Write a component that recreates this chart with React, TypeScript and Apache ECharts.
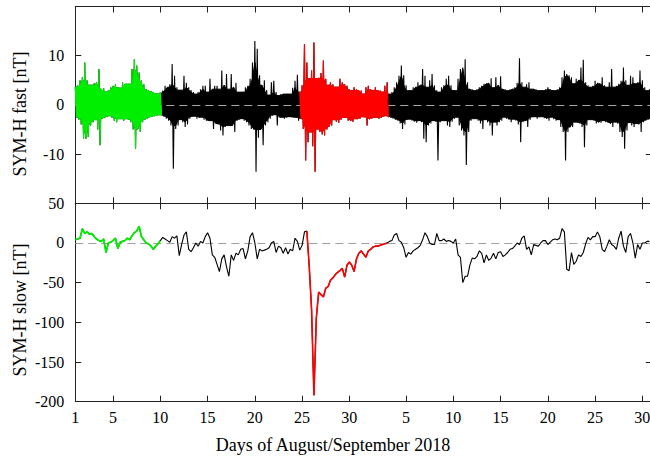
import React, { useEffect, useRef } from "react";
import * as echarts from "echarts";

// Time base: day of August (Sep d = 31 + d), samples every quarter day
const START_DAY = 1;
const STEP = 0.25;
const X_MIN = 1;
const X_MAX = 62;

const xTickDays = [1, 5, 10, 15, 20, 25, 30, 36, 41, 46, 51, 56, 61];

// Fast component: upper / lower extreme per quarter day [nT]
const fastHigh = [
  3.6, 4.0, 5.0, 5.6, 8.6, 5.0, 4.0, 4.0, 4.4, 4.6, 7.3, 3.2, 3.4, 2.6, 3.0, 3.6,
  3.9, 4.2, 3.6, 3.4, 4.6, 4.2, 4.2, 4.2, 7.3, 9.3, 8.0, 6.6, 5.0, 4.2, 3.2, 3.0,
  2.8, 2.6, 2.4, 2.2, 2.6, 2.9, 3.9, 3.6, 4.2, 8.3, 5.9, 3.6, 3.0, 3.0, 5.9, 4.5,
  3.6, 3.0, 2.6, 2.2, 2.6, 3.2, 3.9, 3.9, 2.6, 5.3, 3.2, 3.9, 3.9, 3.2, 7.0, 4.0,
  6.3, 3.2, 6.3, 3.6, 4.5, 2.6, 2.6, 2.6, 3.6, 3.9, 5.3, 8.6, 13.0, 11.4, 6.0, 4.0,
  5.0, 3.0, 2.0, 4.6, 4.9, 2.6, 1.9, 2.2, 2.2, 2.2, 2.2, 2.2, 3.5, 4.9, 6.1, 2.6,
  4.0, 12.4, 8.6, 5.3, 7.0, 12.7, 5.3, 5.5, 6.5, 9.0, 5.3, 4.0, 4.6, 4.2, 3.6, 3.6,
  5.3, 4.6, 4.2, 3.9, 3.2, 2.9, 3.6, 3.2, 2.9, 2.9, 2.2, 3.6, 3.9, 3.2, 2.9, 3.6,
  2.9, 2.9, 2.6, 3.9, 4.6, 2.2, 2.6, 3.6, 4.6, 5.9, 8.0, 6.0, 4.0, 2.9, 2.9, 3.6,
  3.6, 4.6, 4.0, 7.3, 5.9, 3.6, 5.0, 6.3, 4.0, 3.0, 2.6, 3.6, 4.0, 5.3, 5.9, 4.0,
  3.0, 2.9, 5.3, 7.3, 7.6, 9.3, 4.6, 3.2, 3.2, 2.9, 3.2, 3.6, 3.9, 4.3, 4.3, 4.5,
  5.4, 3.5, 5.6, 4.0, 5.8, 3.2, 3.2, 2.9, 3.2, 3.2, 3.6, 4.5, 9.5, 4.6, 3.6, 4.2,
  4.6, 3.2, 3.2, 3.2, 2.9, 2.9, 2.9, 3.2, 3.6, 3.2, 3.0, 2.9, 3.2, 3.6, 5.6, 7.0,
  6.3, 6.0, 5.6, 4.3, 5.3, 5.0, 7.6, 9.2, 4.6, 4.0, 3.6, 3.9, 4.9, 4.5, 4.3, 5.6,
  4.0, 3.6, 4.6, 7.3, 3.6, 3.9, 4.3, 4.9, 7.6, 5.0, 4.0, 5.9, 5.6, 4.3, 4.6, 7.0,
  5.0, 3.6, 2.9, 3.2,
];

const fastLow = [
  -2.5, -3.0, -4.0, -6.9, -6.9, -6.5, -4.2, -3.5, -3.0, -5.0, -8.2, -2.8, -2.6, -2.4, -2.2, -2.6,
  -3.2, -3.5, -2.8, -2.8, -3.2, -2.8, -3.0, -3.5, -5.0, -8.9, -4.9, -5.5, -3.5, -3.0, -2.8, -2.5,
  -2.4, -2.3, -2.1, -2.0, -2.2, -2.4, -2.8, -3.2, -4.2, -13.0, -4.9, -4.2, -3.0, -3.5, -4.5, -4.0,
  -2.8, -2.4, -2.3, -2.8, -2.6, -2.5, -3.0, -3.2, -3.2, -3.2, -4.9, -3.8, -4.0, -5.2, -6.2, -4.5,
  -4.2, -4.2, -4.2, -5.5, -3.2, -3.0, -2.8, -3.2, -3.5, -4.2, -4.9, -5.0, -13.6, -6.7, -5.0, -8.2,
  -4.2, -3.5, -2.8, -2.2, -2.0, -4.2, -2.5, -2.5, -2.8, -2.6, -2.4, -2.5, -2.5, -2.6, -3.2, -2.8,
  -4.9, -11.3, -7.6, -5.5, -8.4, -13.6, -4.9, -5.5, -6.0, -6.2, -5.0, -4.5, -4.2, -3.0, -3.4, -3.6,
  -3.0, -2.6, -2.5, -3.2, -3.2, -3.4, -2.8, -2.8, -2.8, -2.4, -2.5, -4.2, -2.9, -2.8, -2.5, -2.5,
  -2.8, -2.6, -2.4, -2.2, -2.5, -2.5, -2.8, -3.0, -3.2, -3.8, -4.9, -4.0, -3.0, -2.9, -3.2, -3.4,
  -3.6, -3.2, -3.5, -6.9, -7.6, -4.2, -3.8, -3.2, -3.4, -11.3, -3.5, -3.2, -3.2, -4.2, -4.5, -3.4,
  -2.8, -2.5, -4.2, -5.2, -6.2, -12.2, -5.5, -3.2, -2.8, -2.8, -3.2, -3.8, -4.9, -3.0, -3.5, -4.2,
  -6.2, -3.5, -4.2, -3.5, -3.2, -2.5, -2.8, -3.0, -3.5, -2.9, -3.2, -4.0, -7.6, -3.5, -3.2, -4.5,
  -3.0, -2.5, -2.4, -2.8, -2.5, -2.4, -2.7, -2.8, -3.2, -2.5, -2.9, -3.2, -3.0, -4.5, -5.5, -11.3,
  -5.5, -4.5, -4.5, -3.5, -3.6, -3.8, -4.5, -8.6, -4.2, -3.0, -3.0, -3.2, -3.8, -3.5, -3.6, -3.2,
  -3.5, -3.6, -3.9, -4.5, -3.5, -3.8, -5.5, -6.5, -8.9, -5.2, -3.6, -4.2, -4.5, -3.8, -4.0, -5.5,
  -3.5, -3.2, -3.0, -2.8,
];

// Slow component per quarter day [nT]
const slow = [
  4, 5, 6, 18, 12, 14, 11, 12, 8, 5, 3, 2, 5, -12, 0, 1,
  3, 6, -7, 1, 2, 3, 6, 4, 9, 13, 15, 21, 8, 4, 0, -1,
  -4, -8, -4, -1, 3, 7, 5, 3, 1, 8, 6, 9, -16, -2, 10, 14,
  -8, -11, -6, 0, -4, 2, 0, 8, 13, 6, -15, -18, -27, -36, -20, -15,
  -30, -42, -15, -22, -13, -15, -8, -7, -20, -10, 8, 13, 0, -20, -8, -10,
  -9, -8, -6, 0, 2, -12, -4, -6, -13, -6, -14, -8, -10, 6, 2, -9,
  -3, 14, 15, -29, -84, -192, -95, -62, -65, -68, -57, -55, -47, -44, -40, -37,
  -35, -32, -43, -28, -24, -28, -36, -20, -13, -10, -14, -18, -10, -8, -5, -4,
  -4, -3, -2, -1, 0, 2, 3, 10, 12, 3, 1, -6, -18, -12, -14, -10,
  -8, -6, -3, 4, 13, 8, 0, -2, -2, 12, 3, 3, 5, 2, 3, 2,
  0, 5, -15, -18, -50, -42, -42, -28, -19, -20, -17, -10, -13, -25, -15, -22,
  -19, -13, -20, -12, -11, -17, -15, -12, -8, -7, -4, 0, -2, 6, 9, -8,
  -5, -15, -2, -3, -4, 0, 3, 3, -2, 1, 4, 5, 4, 6, 18, 14,
  -33, -35, -12, -27, -23, -15, -17, -12, -1, 7, 4, 8, 8, 14, 8, -8,
  -11, -4, 4, -2, -4, -8, 6, 15, -4, -12, 8, 12, 0, -19, -2, -8,
  0, 0, 2, 2,
];

// Colour segments (day ranges)
const greenRange = [1, 10];
const redFastRange = [24.75, 34];
const redSlowRange = [25.5, 34];

const FONT = "Liberation Serif";
const BLACK = "#000000";
const GREEN = "#00ee00";
const RED = "#ff0000";
const AXIS_COLOR = "#222222";

const inRange = (t: number, from: number, to: number) => t >= from - 1e-9 && t <= to + 1e-9;

function pts(values: number[], from: number, to: number): number[][] {
  return values
    .map((v, i) => [START_DAY + i * STEP, v])
    .filter((p) => inRange(p[0], from, to));
}

// Zigzag between the upper and lower extreme of each quarter day (thin spikes)
function zigzag(high: number[], low: number[], from: number, to: number): number[][] {
  const out: number[][] = [];
  high.forEach((h, i) => {
    const t = START_DAY + i * STEP;
    if (!inRange(t, from, to)) return;
    out.push([t, h]);
    out.push([t + STEP / 2, low[i]]);
  });
  return out;
}

// Solid core of the band: the smallest excursion among neighbouring samples
function core(values: number[], upper: boolean, from: number, to: number, shift: number): number[][] {
  const out: number[][] = [];
  values.forEach((v, i) => {
    const t = START_DAY + i * STEP;
    if (!inRange(t, from, to)) return;
    const a = values[Math.max(0, i - 1)];
    const b = values[Math.min(values.length - 1, i + 1)];
    const c = upper ? Math.min(a, v, b) : Math.max(a, v, b);
    out.push([t + shift, c]);
  });
  return out;
}

function dayLabel(v: number): string {
  return String(v > 31 ? v - 31 : v);
}

export default function App() {
  const ref = useRef<HTMLDivElement>(null);

  useEffect(() => {
    if (!ref.current) return;
    const chart = echarts.init(ref.current, undefined, { renderer: "svg" });

    const lineStyle = { color: AXIS_COLOR, width: 1 };
    const baseAxis = {
      type: "value",
      axisLine: { show: true, onZero: false, lineStyle },
      splitLine: { show: false },
    };
    const xAxisBase = (gridIndex: number, position: string, labels: boolean) => ({
      ...baseAxis,
      gridIndex,
      position,
      min: X_MIN,
      max: X_MAX,
      axisTick: { show: true, inside: true, length: 6, customValues: xTickDays, lineStyle },
      axisLabel: labels
        ? {
            show: true,
            customValues: xTickDays,
            formatter: (v: number) => dayLabel(v),
            margin: 8,
            fontFamily: FONT,
            fontSize: 16,
            color: "#000",
          }
        : { show: false },
    });
    const yAxisBase = (
      gridIndex: number,
      position: string,
      min: number,
      max: number,
      interval: number,
      labels: boolean,
      hide?: number[]
    ) => ({
      ...baseAxis,
      gridIndex,
      position,
      min,
      max,
      interval,
      axisTick: { show: true, inside: true, length: 6, lineStyle },
      axisLabel: labels
        ? {
            show: true,
            margin: 11,
            fontFamily: FONT,
            fontSize: 16,
            color: "#000",
            formatter: (v: number) => (hide && hide.indexOf(v) >= 0 ? "" : String(v)),
          }
        : { show: false },
    });

    const fastLine = (data: number[][], color: string, z: number, extra?: any) => ({
      type: "line",
      xAxisIndex: 0,
      yAxisIndex: 0,
      data,
      showSymbol: false,
      symbol: "none",
      silent: true,
      z,
      lineStyle: { color, width: 1.1 },
      itemStyle: { color },
      ...(extra || {}),
    });
    const fastCore = (data: number[][], color: string, z: number) => ({
      type: "line",
      xAxisIndex: 0,
      yAxisIndex: 0,
      data,
      showSymbol: false,
      symbol: "none",
      silent: true,
      z,
      lineStyle: { color, width: 1 },
      itemStyle: { color },
      areaStyle: { color, opacity: 1, origin: "auto" },
    });
    const fastGroup = (from: number, to: number, color: string, z: number, extra?: any) => [
      fastCore(core(fastHigh, true, from, to, 0), color, z),
      fastCore(core(fastLow, false, from, to, STEP / 2), color, z),
      fastLine(zigzag(fastHigh, fastLow, from, to), color, z, extra),
    ];

    const slowSeries = (data: number[][], color: string, width: number, z: number, extra?: any) => ({
      type: "line",
      xAxisIndex: 2,
      yAxisIndex: 2,
      data,
      showSymbol: false,
      symbol: "none",
      silent: true,
      z,
      lineStyle: { color, width },
      itemStyle: { color },
      ...(extra || {}),
    });

    const option: any = {
      animation: false,
      backgroundColor: "#ffffff",
      textStyle: { fontFamily: FONT },
      grid: [
        { left: 75.3, right: -1.8, top: 6.5, height: 196.8, containLabel: false, outerBoundsMode: "none" },
        { left: 75.3, right: -1.8, top: 203.3, height: 198.4, containLabel: false, outerBoundsMode: "none" },
      ],
      xAxis: [
        xAxisBase(0, "bottom", false),
        xAxisBase(0, "top", false),
        xAxisBase(1, "bottom", true),
        xAxisBase(1, "top", false),
      ],
      yAxis: [
        yAxisBase(0, "left", -20, 20, 10, true, [-20, 20]),
        yAxisBase(0, "right", -20, 20, 10, false),
        yAxisBase(1, "left", -200, 50, 50, true),
        yAxisBase(1, "right", -200, 50, 50, false),
      ],
      series: [
        ...fastGroup(X_MIN, X_MAX, BLACK, 2, {
          markLine: {
            silent: true,
            symbol: "none",
            z: 5,
            label: { show: false },
            lineStyle: { color: "#a8a8a8", type: [8, 5], width: 1 },
            data: [{ yAxis: 0 }],
            animation: false,
          },
        }),
        ...fastGroup(greenRange[0], greenRange[1], GREEN, 10),
        ...fastGroup(redFastRange[0], redFastRange[1], RED, 10),
        slowSeries(pts(slow, X_MIN, X_MAX), BLACK, 1.1, 3, {
          markLine: {
            silent: true,
            symbol: "none",
            z: 1,
            label: { show: false },
            lineStyle: { color: "#a0a0a0", type: [8, 5], width: 1 },
            data: [{ yAxis: 0 }],
            animation: false,
          },
        }),
        slowSeries(pts(slow, greenRange[0], greenRange[1]), GREEN, 1.8, 10),
        slowSeries(pts(slow, redSlowRange[0], redSlowRange[1]), RED, 1.6, 10),
      ],
      graphic: [
        {
          type: "text",
          x: 19.5,
          y: 114,
          rotation: Math.PI / 2,
          style: {
            text: "SYM-H fast [nT]",
            font: "18px 'Liberation Serif'",
            fill: "#000",
            align: "center",
            verticalAlign: "middle",
            textAlign: "center",
            textVerticalAlign: "middle",
          },
        },
        {
          type: "text",
          x: 19.5,
          y: 310,
          rotation: Math.PI / 2,
          style: {
            text: "SYM-H slow [nT]",
            font: "18px 'Liberation Serif'",
            fill: "#000",
            align: "center",
            verticalAlign: "middle",
            textAlign: "center",
            textVerticalAlign: "middle",
          },
        },
        {
          type: "text",
          x: 333,
          y: 445,
          style: {
            text: "Days of August/September 2018",
            font: "18px 'Liberation Serif'",
            fill: "#000",
            align: "center",
            verticalAlign: "middle",
            textAlign: "center",
            textVerticalAlign: "middle",
          },
        },
      ],
    };

    chart.setOption(option);
    return () => {
      chart.dispose();
    };
  }, []);

  return (
    <div
      ref={ref}
      style={{ position: "absolute", left: 0, top: 0, width: 650, height: 458, overflow: "hidden" }}
    />
  );
}
